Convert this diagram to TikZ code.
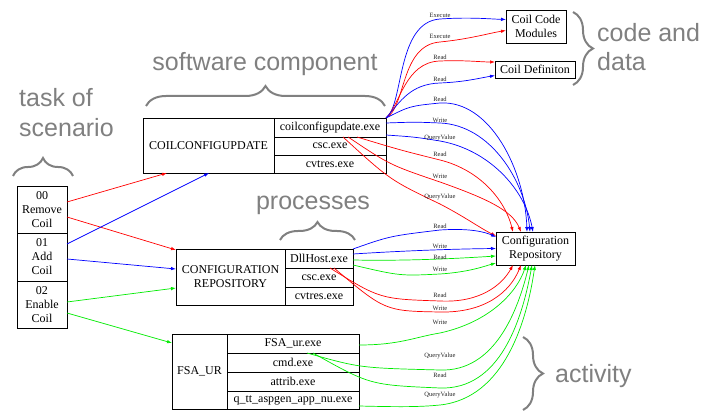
\documentclass[tikz,border=0pt]{standalone}
\usepackage{fontspec}
\setmainfont{Liberation Serif}
\newfontfamily\sansfont{Liberation Sans}
\usetikzlibrary{arrows.meta,calc,decorations.pathreplacing}
\definecolor{ered}{RGB}{255,0,0}
\definecolor{eblue}{RGB}{0,0,255}
\definecolor{egreen}{RGB}{0,235,0}
\definecolor{txtgray}{RGB}{128,128,128}
\begin{document}
\begin{tikzpicture}[x=1pt,y=-1pt,
 cell/.style={draw=black, line width=0.8pt, inner sep=0pt, outer sep=0pt, font=\fontsize{12}{14}\selectfont, align=center},
 lbl/.style={font=\fontsize{6.5}{7}\selectfont, text=black!85, inner sep=0pt},
 big/.style={font=\sansfont\fontsize{25}{30}\selectfont, text=txtgray, inner sep=0pt},
 brc/.style={draw=txtgray, line width=2pt, decorate, decoration={brace, amplitude=#1}},
 arr/.style={line width=0.7pt, -{Latex[length=5pt,width=3.5pt]}},
]
\useasboundingbox (0,0) rectangle (702,411);

% task boxes
\node[cell, minimum width=50pt, minimum height=47pt] (t0) at (42,209.5) {00\\Remove\\Coil};
\node[cell, minimum width=50pt, minimum height=48pt] (t1) at (42,257) {01\\Add\\Coil};
\node[cell, minimum width=50pt, minimum height=47pt] (t2) at (42,304.5) {02\\Enable\\Coil};

% COILCONFIGUPDATE
\node[cell, minimum width=131pt, minimum height=55pt] (ccu) at (208.5,145.5) {COILCONFIGUPDATE};
\node[cell, minimum width=112pt, minimum height=19pt] (ccu1) at (330,127.5) {coilconfigupdate.exe};
\node[cell, minimum width=112pt, minimum height=18pt] (ccu2) at (330,146) {csc.exe};
\node[cell, minimum width=112pt, minimum height=18pt] (ccu3) at (330,164) {cvtres.exe};

% CONFIGURATION REPOSITORY
\node[cell, minimum width=109pt, minimum height=56pt] (cr) at (230.5,277) {CONFIGURATION\\REPOSITORY};
\node[cell, minimum width=68pt, minimum height=19pt] (cr1) at (319,258.5) {DllHost.exe};
\node[cell, minimum width=68pt, minimum height=19pt] (cr2) at (319,277.5) {csc.exe};
\node[cell, minimum width=68pt, minimum height=18pt] (cr3) at (319,296) {cvtres.exe};

% FSA_UR
\node[cell, minimum width=55pt, minimum height=75pt] (fsa) at (199.5,371.5) {FSA\_UR};
\node[cell, minimum width=132pt, minimum height=19pt] (fsa1) at (293,343.5) {FSA\_ur.exe};
\node[cell, minimum width=132pt, minimum height=19pt] (fsa2) at (293,362.5) {cmd.exe};
\node[cell, minimum width=132pt, minimum height=19pt] (fsa3) at (293,381.5) {attrib.exe};
\node[cell, minimum width=132pt, minimum height=18pt] (fsa4) at (293,400) {q\_tt\_aspgen\_app\_nu.exe};

% right boxes
\node[cell, minimum width=79pt, minimum height=33pt] (crr) at (535.5,248.5) {Configuration\\Repository};
\node[cell, minimum width=60pt, minimum height=33pt] (ccm) at (536,26.5) {Coil Code\\Modules};
\node[cell, minimum width=80pt, minimum height=17pt] (cdef) at (535,69.5) {Coil Definiton};

% task edges
\draw[arr, ered] ([yshift=7.5pt]t0.east) -- ([xshift=-41.5pt]ccu.south);
\draw[arr, ered] ([yshift=-7.5pt]t0.east) -- ([yshift=-1pt]cr.north west);
\draw[arr, eblue] ([yshift=13pt]t1.east) -- ([xshift=0.5pt]ccu.south);
\draw[arr, eblue] ([yshift=-2pt]t1.east) -- ([yshift=8pt]cr.west);
\draw[arr, egreen] ([yshift=2.5pt]t2.east) -- ([yshift=-11pt]cr.west);
\draw[arr, egreen] ([yshift=-8.5pt]t2.east) -- ([yshift=-9pt]fsa.north west);

% coilconfigupdate.exe edges
\draw[arr, eblue] (ccu1.north east) .. controls (404,105) and (396,22) .. (440,19) .. controls (470,17) and (490,19) .. ([yshift=7pt]ccm.west);
\draw[arr, ered] (ccu1.north east) .. controls (406,108) and (400,45) .. (440,42) .. controls (470,39) and (490,33) .. ([yshift=-4pt]ccm.west);
\draw[arr, ered] (ccu1.north east) .. controls (400,105) and (405,62) .. (440,61) .. controls (465,60) and (480,62) .. ([yshift=7.5pt]cdef.west);
\draw[arr, eblue] (ccu1.north east) .. controls (400,102) and (410,84) .. (440,83) .. controls (465,82) and (480,78) .. ([yshift=-6pt]cdef.west);
\draw[arr, eblue] (ccu1.north east) .. controls (410,106) .. (440,103) .. controls (490,100) and (525,170) .. ($(crr.north west)+(31,0)$);
\draw[arr, eblue] ([yshift=-5pt]ccu1.north east) .. controls (415,122) .. (440,123) .. controls (490,125) and (525,180) .. ($(crr.north west)+(34,0)$);
\draw[arr, eblue] ([yshift=-17pt]ccu1.north east) .. controls (415,137) .. (440,141) .. controls (490,150) and (525,190) .. ($(crr.north west)+(37,0)$);
\draw[arr, ered] ([xshift=27pt]ccu1.south) .. controls (400,150) .. (440,160) .. controls (480,170) and (505,200) .. ($(crr.north west)+(17,0)$);
\draw[arr, ered] ([xshift=18pt]ccu1.south) .. controls (390,165) .. (440,182) .. controls (485,198) and (512,210) .. ($(crr.north west)+(25,0)$);
\draw[arr, ered] ([xshift=13pt]ccu1.south) .. controls (390,180) .. (440,204) .. controls (465,217) and (480,228) .. ([yshift=-4pt]crr.north west);

% DllHost.exe edges
\draw[arr, eblue] (cr1.north east) .. controls (390,236) .. (440,230) .. controls (470,228) and (485,232) .. ([yshift=11.5pt]crr.west);
\draw[arr, eblue] ([yshift=-5pt]cr1.north east) .. controls (400,251) and (450,249) .. (crr.west);
\draw[arr, egreen] ([yshift=-11pt]cr1.north east) .. controls (400,261) and (450,259) .. ([yshift=-7.5pt]crr.west);
\draw[arr, egreen] ([yshift=-16pt]cr1.north east) .. controls (400,276) .. (440,274) .. controls (470,272) and (485,266) .. ([yshift=-14.5pt]crr.west);
\draw[arr, ered] ([xshift=11pt]cr1.south) .. controls (380,299) .. (440,301) .. controls (480,303) and (502,285) .. ($(crr.south west)+(17,0)$);
\draw[arr, ered] ([xshift=15pt]cr1.south) .. controls (385,311) .. (440,312) .. controls (485,313) and (510,292) .. ($(crr.south west)+(25,0)$);

% FSA_ur.exe edges
\draw[arr, egreen] ([yshift=-11pt]fsa1.north east) .. controls (400,345) and (415,337) .. (440,333) .. controls (490,322) and (517,292) .. ($(crr.south west)+(30,0)$);
\draw[arr, egreen] ([xshift=14pt]fsa1.south) .. controls (360,368) .. (440,370) .. controls (495,372) and (518,310) .. ($(crr.south west)+(33,0)$);
\draw[arr, egreen] ([xshift=20pt]fsa1.south) .. controls (370,385) .. (440,388) .. controls (500,390) and (522,320) .. ($(crr.south west)+(36,0)$);
\draw[arr, egreen] ([yshift=-15pt]fsa4.north east) .. controls (400,407) and (420,407) .. (440,405) .. controls (505,398) and (527,320) .. ($(crr.south west)+(39,0)$);

% edge labels
\node[lbl] (la1) at (440,15) {Execute};
\node[lbl] (la2) at (440,36) {Execute};
\node[lbl] (la3) at (440,57) {Read};
\node[lbl] (la4) at (440,79) {Read};
\node[lbl] (la5) at (440,99) {Read};
\node[lbl] (la6) at (440,120) {Write};
\node[lbl] (la7) at (440,138) {QueryValue};
\node[lbl] (la8) at (440,154) {Read};
\node[lbl] (la9) at (440,176) {Write};
\node[lbl] (la10) at (440,197) {QueryValue};
\node[lbl] (lb1) at (440,226) {Read};
\node[lbl] (lb2) at (440,246) {Write};
\node[lbl] (lb3) at (440,257) {Read};
\node[lbl] (lb4) at (440,269) {Write};
\node[lbl] (lb5) at (440,295) {Read};
\node[lbl] (lb6) at (440,308) {Write};
\node[lbl] (lc1) at (440,322) {Write};
\node[lbl] (lc2) at (440,356) {QueryValue};
\node[lbl] (lc3) at (440,375) {Read};
\node[lbl] (lc4) at (440,395) {QueryValue};

% braces
\draw[brc=20pt] (146,106) -- (385,106);
\draw[brc=18pt] (13,176) -- (73,176);
\draw[brc=18pt] (280,240) -- (355,240);
\draw[brc=20pt] (573,12) -- (573,85);
\draw[brc=20pt] (523,337) -- (523,410);

% big gray texts
\node[big, anchor=base west] (tk1) at (19,107) {task of};
\node[big, anchor=base west] (tk2) at (19,137) {scenario};
\node[big, anchor=base] (sw) at (265,71) {software component};
\node[big, anchor=base] (pr) at (313,210) {processes};
\node[big, anchor=base west] (cd1) at (597,42) {code and};
\node[big, anchor=base west] (cd2) at (597,71) {data};
\node[big, anchor=base west] (act) at (555,383) {activity};
\end{tikzpicture}
\end{document}
